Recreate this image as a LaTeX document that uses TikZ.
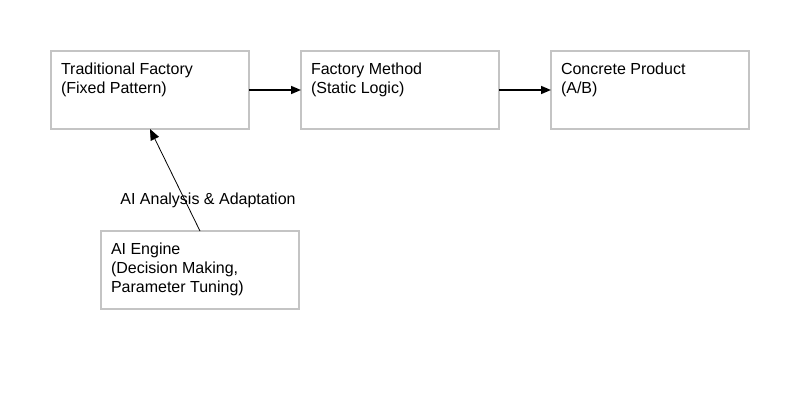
\documentclass[tikz,border=0pt]{standalone}
\usepackage{fontspec}
\setmainfont{Liberation Sans}
\usepackage{tikz}
\usetikzlibrary{positioning}
\usetikzlibrary{arrows.meta}
\definecolor{boxgray}{HTML}{C4C4C4}
% text in the upper left corner of a box
\newcommand{\boxlines}[1]{\parbox[t][58pt][t]{178pt}{\strut #1}}

\begin{document}
\begin{tikzpicture}[x=1pt,y=-1pt,
                font=\fontsize{16}{19}\selectfont,
                box/.style={draw=boxgray,line width=2pt,
                    rectangle,inner sep=10pt,outer sep=0pt,
                    minimum width=198pt,minimum height=78pt},
                flow/.style={-{Triangle[length=10pt,width=8pt]},line width=1.6pt},
                feed/.style={-{Triangle[length=11pt,width=9pt]},line width=0.8pt}]
                \useasboundingbox (0,0) rectangle (800,400);
                \node[box](trad) at (150,90) {\boxlines{Traditional Factory\\(Fixed Pattern)}};
                \node[box,right=52pt of trad](method) {\boxlines{Factory Method\\(Static Logic)}};
                \node[box,right=52pt of method](product) {\boxlines{Concrete Product\\(A/B)}};
                \node[box](engine) at (200,270) {\boxlines{AI Engine\\(Decision Making,\\Parameter Tuning)}};
                \node(adapt) at (208,200) {AI Analysis \& Adaptation};
                \draw[flow] (trad) -- (method);
                \draw[flow] (method) -- (product);
                \draw[feed] (engine.north) -- (trad.south);
            \end{tikzpicture}
\end{document}
